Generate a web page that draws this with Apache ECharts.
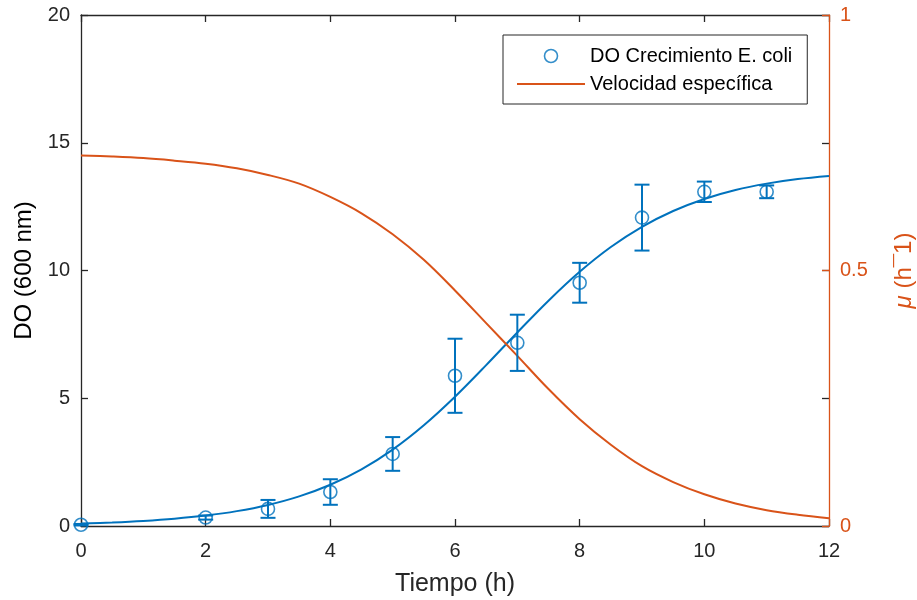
<!DOCTYPE html>
<html>
<head>
<meta charset="utf-8">
<script src="https://cdn.jsdelivr.net/npm/echarts@6/dist/echarts.min.js"></script>
<style>
  html, body { margin: 0; padding: 0; background: #fff; }
  #chart { width: 917px; height: 600px; }
</style>
</head>
<body>
<div id="chart"></div>
<script>
// Measured optical density (600 nm) of the E. coli culture with its deviation
const timeObs = [0, 2, 3, 4, 5, 6, 7, 8, 9, 10, 11];
const doObs   = [0.05, 0.33, 0.67, 1.33, 2.82, 5.88, 7.17, 9.52, 12.07, 13.08, 13.08];
const doErr   = [0.03, 0.08, 0.35, 0.5, 0.66, 1.45, 1.1, 0.78, 1.29, 0.4, 0.25];

// Fitted growth curve and specific growth rate, sampled every half hour
const timeFit = [0, 0.5, 1, 1.5, 2, 2.5, 3, 3.5, 4, 4.5, 5, 5.5, 6, 6.5, 7, 7.5, 8, 8.5, 9, 9.5, 10, 10.5, 11, 11.5, 12];
const doFit = [0.096, 0.139, 0.199, 0.285, 0.408, 0.582, 0.825, 1.16, 1.615, 2.218, 2.991, 3.944, 5.06, 6.295, 7.576, 8.819, 9.95, 10.92, 11.71, 12.33, 12.80, 13.15, 13.40, 13.58, 13.70];
const muFit = [0.725, 0.723, 0.720, 0.715, 0.709, 0.700, 0.687, 0.670, 0.644, 0.612, 0.571, 0.521, 0.461, 0.397, 0.333, 0.268, 0.209, 0.159, 0.117, 0.086, 0.062, 0.044, 0.031, 0.022, 0.015];

// Axis ticks
const xTicks = { min: 0, max: 12, interval: 2 };
const yLeftTicks = { min: 0, max: 20, interval: 5 };
const yRightTicks = { min: 0, max: 1, interval: 0.5 };

const BLUE = '#0072BD';
const ORANGE = '#D95319';
const INK = '#262626';
const FONT = "'Liberation Sans', Arial, Helvetica, sans-serif";
const AXIS_W = 1.3;

const obsPoints = timeObs.map((t, i) => [t, doObs[i]]);
const errPoints = timeObs.map((t, i) => [t, doObs[i], doErr[i]]);
const fitPoints = timeFit.map((t, i) => [t, doFit[i]]);
const muPoints = timeFit.map((t, i) => [t, muFit[i]]);

const chart = echarts.init(document.getElementById('chart'), null, { renderer: 'canvas' });

const plotRect = { left: 81, right: 88, top: 15, bottom: 74, containLabel: false, outerBoundsMode: 'none' };

const baseX = {
  type: 'value', min: xTicks.min, max: xTicks.max, interval: xTicks.interval,
  splitLine: { show: false },
  axisLine: { show: true, onZero: false, lineStyle: { color: INK, width: AXIS_W } },
  axisTick: { show: true, inside: true, length: 7, lineStyle: { color: INK, width: AXIS_W } }
};

const option = {
  animation: false,
  backgroundColor: '#ffffff',
  textStyle: { fontFamily: FONT },
  // second grid shares the plot rectangle and only carries the mirrored DO ticks on the right edge
  grid: [Object.assign({}, plotRect), Object.assign({}, plotRect)],
  legend: {
    orient: 'vertical',
    left: 503, top: 35,
    padding: [11, 15, 10, 14],
    itemWidth: 68, itemHeight: 13, itemGap: 8,
    backgroundColor: '#ffffff',
    borderColor: INK, borderWidth: 1, borderRadius: 0,
    textStyle: { fontSize: 20, color: '#000', fontFamily: FONT },
    data: [
      { name: 'DO Crecimiento E. coli', icon: 'circle',
        itemStyle: { color: 'rgba(0,0,0,0)', borderColor: BLUE, borderWidth: 1.6 } },
      { name: 'Velocidad específica', icon: 'path://M0,0H68V2H0Z',
        itemStyle: { color: ORANGE, borderWidth: 0 } }
    ]
  },
  xAxis: [
    Object.assign({}, baseX, {
      gridIndex: 0, position: 'bottom',
      name: 'Tiempo (h)', nameLocation: 'middle', nameGap: 46,
      nameTextStyle: { fontSize: 25, color: INK, fontFamily: FONT },
      axisLabel: { margin: 15, fontSize: 20, color: INK, fontFamily: FONT }
    }),
    Object.assign({}, baseX, {
      gridIndex: 0, position: 'top',
      axisLabel: { show: false }
    }),
    Object.assign({}, baseX, {
      gridIndex: 1, position: 'bottom', show: false
    })
  ],
  yAxis: [
    {
      type: 'value', gridIndex: 0, position: 'left',
      min: yLeftTicks.min, max: yLeftTicks.max, interval: yLeftTicks.interval,
      splitLine: { show: false },
      axisLine: { show: true, onZero: false, lineStyle: { color: INK, width: AXIS_W } },
      axisTick: { show: true, inside: true, length: 7, lineStyle: { color: INK, width: AXIS_W } },
      axisLabel: { margin: 11, fontSize: 20, color: INK, fontFamily: FONT },
      name: 'DO (600 nm)', nameLocation: 'middle', nameGap: 45, nameRotate: 90,
      nameTextStyle: { fontSize: 24, color: '#000', fontFamily: FONT }
    },
    {
      type: 'value', gridIndex: 0, position: 'right',
      min: yRightTicks.min, max: yRightTicks.max, interval: yRightTicks.interval,
      splitLine: { show: false },
      axisLine: { show: true, onZero: false, lineStyle: { color: ORANGE, width: AXIS_W } },
      axisTick: { show: true, inside: true, length: 7, lineStyle: { color: ORANGE, width: AXIS_W } },
      axisLabel: { margin: 11, fontSize: 20, color: ORANGE, fontFamily: FONT },
      name: '{mu|μ} (h¯1)', nameLocation: 'middle', nameGap: 63, nameRotate: 90,
      nameTextStyle: {
        fontSize: 24, color: ORANGE, fontFamily: FONT,
        rich: { mu: { fontSize: 24, color: ORANGE, fontStyle: 'italic', fontFamily: FONT } }
      },
      z: 3
    },
    {
      type: 'value', gridIndex: 1, position: 'right',
      min: yLeftTicks.min, max: yLeftTicks.max, interval: yLeftTicks.interval,
      splitLine: { show: false },
      axisLine: { show: false, onZero: false },
      axisTick: { show: true, inside: true, length: 7, lineStyle: { color: INK, width: AXIS_W } },
      axisLabel: { show: false },
      z: 2
    }
  ],
  series: [
    {
      name: 'Ajuste DO',
      type: 'line',
      xAxisIndex: 0, yAxisIndex: 0,
      data: fitPoints,
      smooth: 0.35,
      symbol: 'none',
      lineStyle: { color: BLUE, width: 2 },
      z: 3
    },
    {
      name: 'Velocidad específica',
      type: 'line',
      xAxisIndex: 0, yAxisIndex: 1,
      data: muPoints,
      smooth: 0.35,
      symbol: 'none',
      itemStyle: { color: ORANGE },
      lineStyle: { color: ORANGE, width: 2 },
      z: 3
    },
    {
      name: 'Error DO',
      type: 'custom',
      xAxisIndex: 0, yAxisIndex: 0,
      data: errPoints,
      renderItem: function (params, api) {
        const x = api.value(0), y = api.value(1), e = api.value(2);
        const top = api.coord([x, y + e]);
        const bot = api.coord([x, y - e]);
        const half = 7.5;
        const style = { stroke: BLUE, lineWidth: 2, fill: null };
        return {
          type: 'group',
          children: [
            { type: 'line', shape: { x1: top[0], y1: top[1], x2: bot[0], y2: bot[1] }, style: style },
            { type: 'line', shape: { x1: top[0] - half, y1: top[1], x2: top[0] + half, y2: top[1] }, style: style },
            { type: 'line', shape: { x1: bot[0] - half, y1: bot[1], x2: bot[0] + half, y2: bot[1] }, style: style }
          ]
        };
      },
      clip: false,
      z: 4
    },
    {
      name: 'DO Crecimiento E. coli',
      type: 'scatter',
      xAxisIndex: 0, yAxisIndex: 0,
      data: obsPoints,
      symbol: 'circle',
      symbolSize: 13,
      itemStyle: { color: 'rgba(0,0,0,0)', borderColor: BLUE, borderWidth: 1.6 },
      clip: false,
      z: 5
    }
  ]
};

chart.setOption(option);
</script>
</body>
</html>
